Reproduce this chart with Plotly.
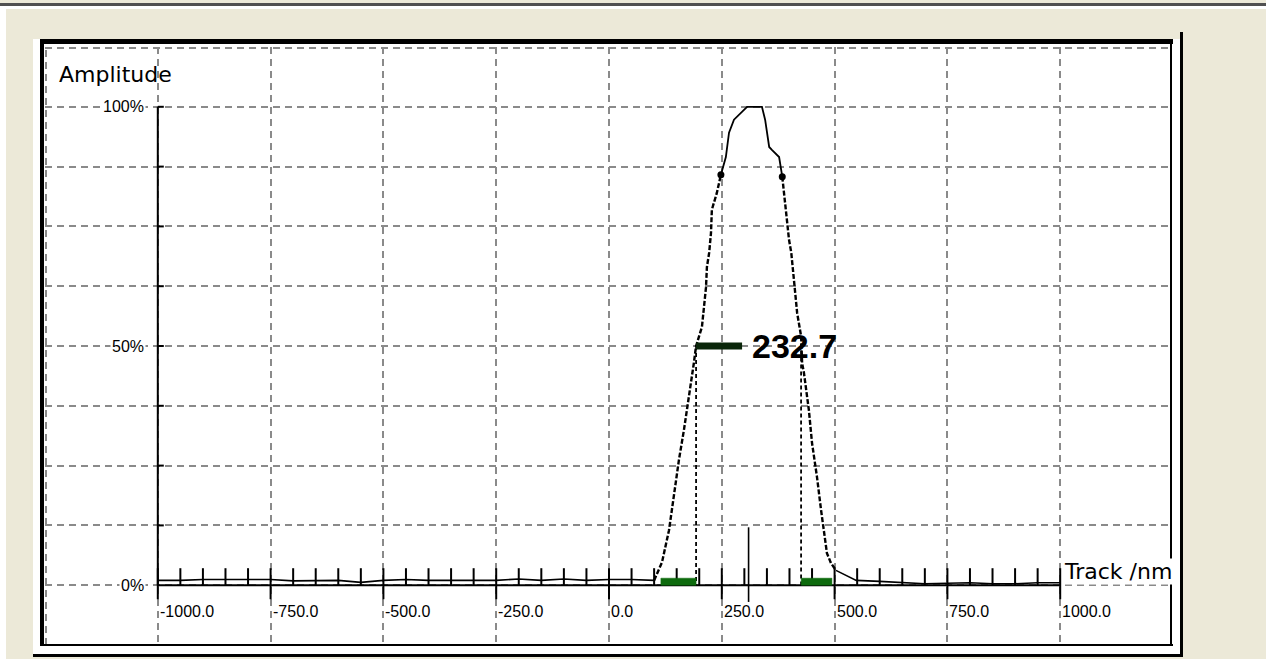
import plotly.graph_objects as go

# ---- measured track profile (position in nm, amplitude in %) ----
track_nm = [-1000, -950, -900, -850, -800, -750, -700, -650, -600, -550, -500,
            -450, -400, -350, -300, -250, -200, -150, -100, -50, 0, 50, 100,
            117.5, 133, 140, 155, 166, 175, 182, 188, 193, 206, 215, 217, 222,
            226, 228, 239, 248, 259, 266, 277, 306, 339, 346, 355, 361, 377,
            384, 392, 399, 404, 410, 417, 426, 428, 432, 443, 450, 461, 470,
            477, 483, 492, 503, 548, 600, 650, 700, 750, 800, 850, 900, 950, 1000]
amplitude = [1.0, 1.0, 1.2, 1.2, 1.2, 1.2, 0.9, 1.0, 1.0, 0.6, 1.0,
             1.2, 1.0, 1.0, 1.0, 1.0, 1.3, 1.0, 1.3, 1.0, 1.2, 1.2, 1.0,
             4.8, 11.5, 16.3, 26.2, 32.4, 38.1, 41.8, 46.4, 50.0, 54.0, 62.3, 66.5, 69.5,
             73.6, 78.5, 82.0, 85.8, 89.5, 94.6, 97.3, 100.0, 100.0, 97.3, 91.6, 91.0, 89.5,
             85.4, 78.5, 72.2, 69.5, 63.2, 56.9, 51.9, 46.4, 44.4, 36.6, 29.7, 22.6, 15.7,
             10.9, 6.7, 4.6, 3.1, 1.0, 0.8, 0.6, 0.3, 0.4, 0.5, 0.3, 0.3, 0.5, 0.5]

# shoulder markers (position, amplitude)
shoulder_nm = [248, 384]
shoulder_amp = [85.8, 85.4]

# half-maximum result
half_left_nm = 193.0
fwhm_nm = 232.7
half_level = 50.0

# green base segments on the track line (start, end in nm)
base_segments = [(115, 193), (426, 494)]

# axes
x_ticks_major = [-1000, -750, -500, -250, 0, 250, 500, 750, 1000]
x_tick_labels = ["-1000.0", "-750.0", "-500.0", "-250.0", "0.0", "250.0", "500.0", "750.0", "1000.0"]
y_label_vals = [100, 50, 0]
y_label_text = ["100%", "50%", "0%"]

# ---- page geometry ----
W, H = 1266, 659
L, T = 45, 47
PW, PH = 1128, 598
R, B = W - L - PW, H - T - PH
XU = 2500 / PW     # nm per pixel
YU = 125 / PH      # % per pixel
GRID = dict(color="#8a8a8a", width=2, dash="7px,5px")


def fx(px):
    return (px - L) / PW


def fy(py):
    return (T + PH - py) / PH


fig = go.Figure()

# profile split into baseline / flanks / crest
i_rise = track_nm.index(100)
i_sh_l = track_nm.index(shoulder_nm[0])
i_sh_r = track_nm.index(shoulder_nm[1])
i_fall = track_nm.index(503)

segments = [
    (0, i_rise, "solid", 1.6),
    (i_rise, i_sh_l, "5px,2px", 2.4),
    (i_sh_l, i_sh_r, "solid", 1.8),
    (i_sh_r, i_fall, "5px,2px", 2.4),
    (i_fall, len(track_nm) - 1, "solid", 1.6),
]
for a, b, dash, w in segments:
    fig.add_trace(go.Scatter(
        x=track_nm[a:b + 1], y=amplitude[a:b + 1], mode="lines",
        line=dict(color="black", width=w, dash=dash),
        hoverinfo="skip", showlegend=False))

fig.add_trace(go.Scatter(
    x=shoulder_nm, y=shoulder_amp, mode="markers",
    marker=dict(color="black", size=7), showlegend=False, hoverinfo="skip"))

half_right_nm = half_left_nm + fwhm_nm
center_nm = half_left_nm + fwhm_nm / 2

shapes = []


def rect_px(x0, y0, x1, y1, color, layer="above"):
    shapes.append(dict(type="rect", xref="paper", yref="paper",
                       x0=fx(x0), x1=fx(x1), y0=fy(y1), y1=fy(y0),
                       fillcolor=color, line=dict(width=0), layer=layer))


# window chrome and chart frame
rect_px(0, 3, W, 6, "#505050")
rect_px(0, 6, W, 9, "#ffffff")
rect_px(0, 9, 6, H, "#ffffff")
rect_px(33, 39, 1182, 656, "#ffffff", layer="below")

# grid lines on the plot edges
shapes.append(dict(type="line", xref="x", yref="paper", x0=-1250 + XU, x1=-1250 + XU,
                   y0=0, y1=1, line=GRID, layer="below"))
shapes.append(dict(type="line", xref="paper", yref="y", x0=0, x1=1,
                   y0=112.5 - YU, y1=112.5 - YU, line=GRID, layer="below"))

rect_px(40, 39, 1173, 44, "#000000")
rect_px(40, 39, 44, 646, "#000000")
rect_px(40, 644, 1173, 646, "#000000")
rect_px(1170, 39, 1172, 646, "#000000")
rect_px(1180, 32, 1183, 657, "#000000")
rect_px(33, 654, 1183, 657, "#000000")


def dline(x0, y0, x1, y1, color="black", width=2, dash="solid"):
    shapes.append(dict(type="line", xref="x", yref="y", x0=x0, y0=y0, x1=x1, y1=y1,
                       line=dict(color=color, width=width, dash=dash)))


# y axis with ticks
dline(-1000, 0, -1000, 100)
for k in range(1, 9):
    v = 12.5 * k
    dline(-1000, v, -1000 + 6 * XU, v)

# x axis with minor / major ticks
dline(-1000, 0, 1000, 0)
for v in range(-1000, 1001, 50):
    if v % 250 == 0:
        dline(v, 17 * YU, v, -14 * YU)
    else:
        dline(v, 17 * YU, v, 0)

# centre marker
dline(center_nm, 12.1, center_nm, -3.5, width=1.6)

# half-maximum drop lines
dline(half_left_nm, half_level, half_left_nm, 0, width=1.8, dash="4px,3px")
dline(half_right_nm, half_level + 2, half_right_nm, 0, width=1.8, dash="4px,3px")

# base segments
for s0, s1 in base_segments:
    shapes.append(dict(type="rect", xref="x", yref="y", x0=s0, x1=s1,
                       y0=0, y1=7 * YU, fillcolor="#0d6a0d",
                       line=dict(color="#0d6a0d", width=0.5)))

# half-width bar
bar_end_nm = half_left_nm + 46 * XU
shapes.append(dict(type="rect", xref="x", yref="y", x0=half_left_nm, x1=bar_end_nm,
                   y0=half_level - 3.5 * YU, y1=half_level + 3.5 * YU,
                   fillcolor="#0a260a", line=dict(width=0)))

annotations = []
for v, t in zip(x_ticks_major, x_tick_labels):
    annotations.append(dict(x=v, y=fy(611), xref="x", yref="paper", text=t,
                            showarrow=False, xanchor="left", yanchor="middle", xshift=1,
                            bgcolor="white", borderpad=0,
                            font=dict(family="Liberation Sans, Arial", size=16, color="black")))
for v, t in zip(y_label_vals, y_label_text):
    annotations.append(dict(x=-1000, y=v, xref="x", yref="y", text=t,
                            showarrow=False, xanchor="right", yanchor="middle", xshift=-12,
                            bgcolor="white", borderpad=1,
                            font=dict(family="Liberation Sans, Arial", size=16, color="black")))

annotations.append(dict(x=fx(57), y=fy(75), xref="paper", yref="paper", text="Amplitude",
                        showarrow=False, xanchor="left", yanchor="middle",
                        font=dict(family="DejaVu Sans", size=22, color="black")))
annotations.append(dict(x=fx(1063), y=fy(571), xref="paper", yref="paper", text="Track /nm",
                        showarrow=False, xanchor="left", yanchor="middle",
                        bgcolor="white", borderpad=0,
                        font=dict(family="DejaVu Sans", size=22, color="black")))
annotations.append(dict(x=bar_end_nm, y=half_level, xref="x", yref="y", text=f"<b>{fwhm_nm:.1f}</b>",
                        showarrow=False, xanchor="left", yanchor="middle", xshift=8,
                        font=dict(family="Liberation Sans, Arial", size=34, color="black")))

fig.update_layout(
    width=W, height=H,
    margin=dict(l=L, r=R, t=T, b=B, pad=0),
    paper_bgcolor="#ECE9D8",
    plot_bgcolor="white",
    showlegend=False,
    shapes=shapes,
    annotations=annotations,
    xaxis=dict(range=[-1250, 1250], tick0=-1250, dtick=250, showgrid=True,
               gridcolor=GRID["color"], gridwidth=GRID["width"], griddash=GRID["dash"],
               zeroline=False, showline=False, ticks="", showticklabels=False,
               fixedrange=True),
    yaxis=dict(range=[-12.5, 112.5], tick0=-12.5, dtick=12.5, showgrid=True,
               gridcolor=GRID["color"], gridwidth=GRID["width"], griddash=GRID["dash"],
               zeroline=False, showline=False, ticks="", showticklabels=False,
               fixedrange=True),
)

fig.write_html("out.html", config={"displayModeBar": False})
